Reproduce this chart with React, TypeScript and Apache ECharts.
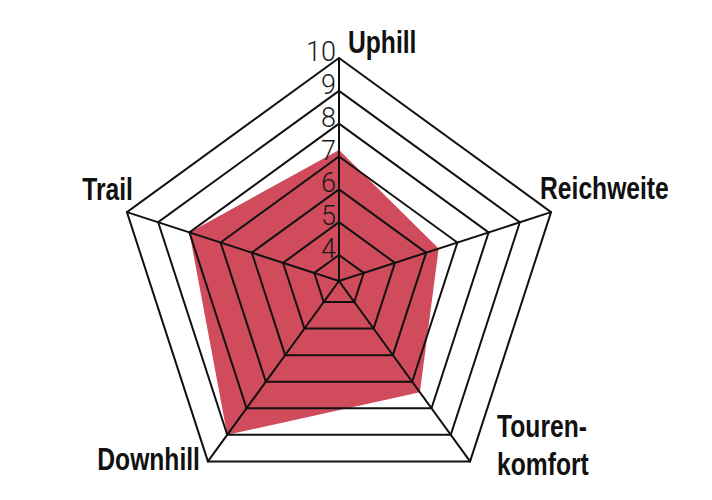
import { useEffect, useRef } from "react";
import * as echarts from "echarts";

// Radar axes in ECharts order (first at top, then counter-clockwise).
const AXES = ["Uphill", "Trail", "Downhill", "Touren-\nkomfort", "Reichweite"];
const VALUES = [7.2, 8, 9, 7.4, 6.4];
const SCALE_MIN = 4;
const SCALE_MAX = 10;
const STEPS = 6;

const RED = "#d04c5c";
const INK = "#111111";
const NAME_FONT = '"Liberation Sans", Arial, sans-serif';

const CENTER = [339, 281];
const R_INNER = 26;
const R_OUTER = 223;

// Axis names sit off the outer vertex: [dx, dy to first baseline, align].
// Drawn as squeezed graphic text, since no condensed face is installed.
const NAME_OFFSETS: [number, number, string][] = [
  [9, -5, "left"],
  [6, -12, "right"],
  [-8, 9, "right"],
  [27, -24, "left"],
  [-11, -13, "left"],
];
const NAME_SIZE = 32;
const NAME_SQUEEZE = 0.77;
const NAME_LINE = 38;

export default function App() {
  const elRef = useRef<HTMLDivElement | null>(null);

  useEffect(() => {
    if (!elRef.current) return;
    const chart = echarts.init(elRef.current, undefined, { renderer: "svg" });

    const indicator = AXES.map((name, i) => ({
      name,
      min: SCALE_MIN,
      max: SCALE_MAX,
      // only the top axis carries the scale numbers
      axisLabel: i === 0 ? { show: true } : undefined,
    }));

    const names = AXES.map((name, i) => {
      const a = Math.PI / 2 + (i * 2 * Math.PI) / AXES.length;
      const vx = CENTER[0] + R_OUTER * Math.cos(a);
      const vy = CENTER[1] - R_OUTER * Math.sin(a);
      const [dx, dy, align] = NAME_OFFSETS[i];
      const lines = name.split("\n").length;
      // 'middle' puts the baseline ~0.35em below the line centre
      const firstCentre = vy + dy - 0.35 * NAME_SIZE;
      const y = firstCentre + ((lines - 1) * NAME_LINE) / 2;
      return {
        type: "group",
        x: vx + dx,
        y,
        scaleX: NAME_SQUEEZE,
        children: [
          {
            type: "text",
            style: {
              text: name,
              align,
              verticalAlign: "middle",
              fill: INK,
              fontFamily: NAME_FONT,
              fontWeight: "bold",
              fontSize: NAME_SIZE,
              lineHeight: NAME_LINE,
            },
          },
        ],
      };
    });

    chart.setOption({
      animation: false,
      backgroundColor: "#ffffff",
      radar: [
        {
          z: 3,
          center: CENTER,
          radius: [R_INNER, R_OUTER],
          startAngle: 90,
          shape: "polygon",
          splitNumber: STEPS,
          indicator,
          axisName: { show: false },
          axisLine: { lineStyle: { color: INK, width: 2 } },
          axisTick: { show: false },
          axisLabel: {
            show: false,
            showMinLabel: true,
            showMaxLabel: true,
            hideOverlap: false,
            margin: 3,
            verticalAlign: "bottom",
            color: "#1a1a1a",
            fontFamily: "Roboto, sans-serif",
            fontWeight: 300,
            fontSize: 27,
            lineHeight: 12,
          },
          splitLine: { lineStyle: { color: INK, width: 2 } },
          splitArea: { show: false },
        },
        {
          // spokes inside the innermost ring, down to the centre
          z: 3,
          center: CENTER,
          radius: R_INNER + 1,
          startAngle: 90,
          shape: "polygon",
          splitNumber: 1,
          indicator: AXES.map(() => ({ min: 0, max: 1 })),
          axisName: { show: false },
          axisLine: { lineStyle: { color: INK, width: 2 } },
          axisTick: { show: false },
          axisLabel: { show: false },
          splitLine: { show: false },
          splitArea: { show: false },
        },
      ],
      series: [
        {
          type: "radar",
          radarIndex: 0,
          z: 1,
          symbol: "none",
          lineStyle: { width: 0, opacity: 0 },
          areaStyle: { color: RED, opacity: 1 },
          data: [{ value: VALUES, name: "Bewertung" }],
        },
      ],
      graphic: names,
    });

    return () => chart.dispose();
  }, []);

  return (
    <div
      ref={elRef}
      style={{ position: "fixed", left: 0, top: 0, width: 712, height: 500 }}
    />
  );
}
